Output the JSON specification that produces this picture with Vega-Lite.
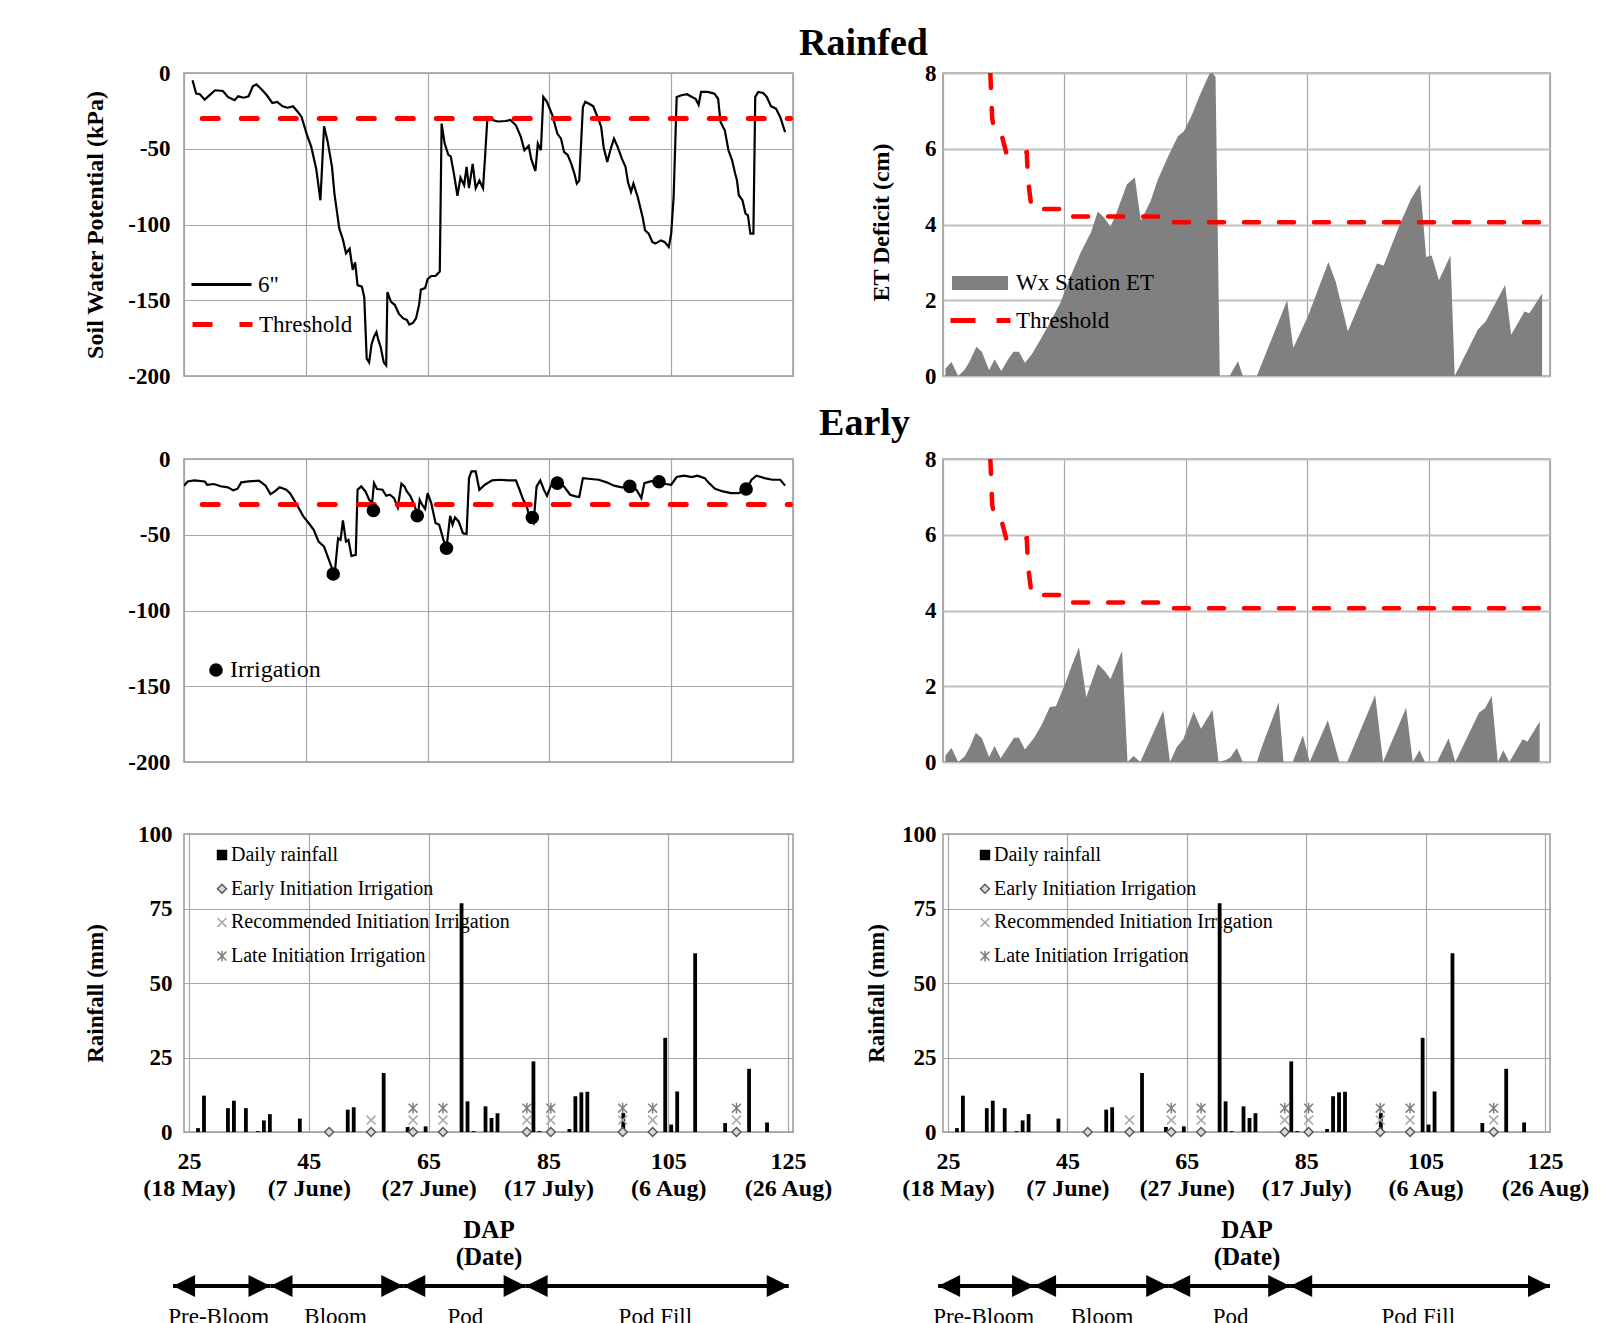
{
"$schema": "https://vega.github.io/schema/vega-lite/v6.json",
"autosize": {"type": "pad"},
"padding": {"left": 82, "top": 0, "right": 0, "bottom": 0},
"background": "white",
"config": {
  "font": "Liberation Serif",
  "view": {"stroke": "#999999", "strokeWidth": 1.5},
  "axis": {"labelFont": "Liberation Serif", "labelFontWeight": "bold", "labelFontSize": 23, "labelColor": "#000000", "titleFont": "Liberation Serif", "titleFontWeight": "bold", "titleFontSize": 24, "titleColor": "#000000", "gridColor": "#a6a6a6", "gridWidth": 1.2, "domain": false, "ticks": false, "tickSize": 0, "labelFlush": false, "labelOverlap": false, "labelBound": false},
  "legend": {"labelFont": "Liberation Serif", "labelColor": "#000000", "padding": 0, "labelLimit": 600},
  "text": {"font": "Liberation Serif"}
},
"resolve": {"scale": {"fill": "independent", "stroke": "independent", "shape": "independent"}, "legend": {"fill": "independent", "stroke": "independent", "shape": "independent"}},
"datasets": {
  "soilR": [{"dap":26.4,"kpa":-4.8},{"dap":27.0,"kpa":-13.6},{"dap":27.6,"kpa":-14},{"dap":28.4,"kpa":-17.6},{"dap":29.3,"kpa":-14.3},{"dap":30.1,"kpa":-11.4},{"dap":31.4,"kpa":-11.9},{"dap":32.2,"kpa":-15.8},{"dap":33.3,"kpa":-18},{"dap":33.9,"kpa":-15.4},{"dap":34.8,"kpa":-16.3},{"dap":35.6,"kpa":-15.4},{"dap":36.3,"kpa":-8.8},{"dap":36.9,"kpa":-7.5},{"dap":37.8,"kpa":-11},{"dap":38.6,"kpa":-14.7},{"dap":39.5,"kpa":-19.8},{"dap":40.3,"kpa":-19.1},{"dap":41.2,"kpa":-22},{"dap":42.0,"kpa":-22.9},{"dap":42.9,"kpa":-22},{"dap":43.7,"kpa":-25.7},{"dap":44.3,"kpa":-29},{"dap":45.2,"kpa":-41},{"dap":45.9,"kpa":-48.8},{"dap":46.7,"kpa":-63},{"dap":47.4,"kpa":-84},{"dap":48.0,"kpa":-35.2},{"dap":48.6,"kpa":-45.5},{"dap":49.3,"kpa":-62},{"dap":49.7,"kpa":-79.6},{"dap":50.5,"kpa":-102.7},{"dap":51.1,"kpa":-110},{"dap":51.6,"kpa":-119},{"dap":52.2,"kpa":-116},{"dap":52.7,"kpa":-130},{"dap":53.1,"kpa":-125},{"dap":53.5,"kpa":-140},{"dap":54.2,"kpa":-141},{"dap":54.6,"kpa":-148},{"dap":55.0,"kpa":-188.6},{"dap":55.4,"kpa":-191},{"dap":55.8,"kpa":-179},{"dap":56.2,"kpa":-174},{"dap":56.6,"kpa":-171},{"dap":56.9,"kpa":-176},{"dap":57.3,"kpa":-181},{"dap":57.8,"kpa":-191},{"dap":58.2,"kpa":-193},{"dap":58.4,"kpa":-144.6},{"dap":59.0,"kpa":-151},{"dap":59.6,"kpa":-153},{"dap":60.3,"kpa":-159},{"dap":61.0,"kpa":-162},{"dap":61.6,"kpa":-163},{"dap":62.0,"kpa":-166},{"dap":62.6,"kpa":-165},{"dap":63.1,"kpa":-162},{"dap":63.6,"kpa":-153},{"dap":63.9,"kpa":-143},{"dap":64.6,"kpa":-142},{"dap":65.0,"kpa":-136},{"dap":65.6,"kpa":-134},{"dap":66.3,"kpa":-134},{"dap":67.0,"kpa":-131},{"dap":67.3,"kpa":-33.4},{"dap":67.8,"kpa":-46.6},{"dap":68.4,"kpa":-54},{"dap":68.8,"kpa":-55},{"dap":69.3,"kpa":-66},{"dap":69.9,"kpa":-81},{"dap":70.4,"kpa":-69},{"dap":71.0,"kpa":-74},{"dap":71.4,"kpa":-62},{"dap":71.8,"kpa":-76},{"dap":72.4,"kpa":-60},{"dap":72.9,"kpa":-76},{"dap":73.5,"kpa":-71},{"dap":74.1,"kpa":-76},{"dap":74.4,"kpa":-57.6},{"dap":74.8,"kpa":-31},{"dap":75.6,"kpa":-31},{"dap":76.5,"kpa":-32},{"dap":77.8,"kpa":-31.7},{"dap":78.6,"kpa":-31},{"dap":79.5,"kpa":-34.5},{"dap":80.3,"kpa":-42},{"dap":80.9,"kpa":-51},{"dap":81.6,"kpa":-48},{"dap":82.0,"kpa":-56.5},{"dap":82.7,"kpa":-64.7},{"dap":83.1,"kpa":-46.6},{"dap":83.6,"kpa":-51},{"dap":84.0,"kpa":-15.8},{"dap":84.6,"kpa":-19},{"dap":85.5,"kpa":-28},{"dap":86.3,"kpa":-40},{"dap":86.9,"kpa":-43.3},{"dap":87.4,"kpa":-52},{"dap":88.0,"kpa":-54},{"dap":88.6,"kpa":-60},{"dap":89.1,"kpa":-66.4},{"dap":89.5,"kpa":-73},{"dap":89.9,"kpa":-71},{"dap":90.5,"kpa":-22.4},{"dap":90.9,"kpa":-19},{"dap":91.8,"kpa":-21},{"dap":92.2,"kpa":-22},{"dap":93.1,"kpa":-31},{"dap":93.5,"kpa":-35.6},{"dap":93.9,"kpa":-48.8},{"dap":94.5,"kpa":-58.7},{"dap":95.0,"kpa":-51},{"dap":95.6,"kpa":-43.3},{"dap":96.2,"kpa":-48.8},{"dap":96.9,"kpa":-56.5},{"dap":97.5,"kpa":-62},{"dap":97.9,"kpa":-72},{"dap":98.4,"kpa":-78.5},{"dap":98.8,"kpa":-73},{"dap":99.5,"kpa":-81.8},{"dap":100.3,"kpa":-95},{"dap":100.7,"kpa":-103.8},{"dap":101.3,"kpa":-106},{"dap":101.9,"kpa":-111.5},{"dap":102.4,"kpa":-112.6},{"dap":103.3,"kpa":-110.5},{"dap":103.9,"kpa":-111.5},{"dap":104.6,"kpa":-114.9},{"dap":105.0,"kpa":-106},{"dap":105.4,"kpa":-81.8},{"dap":105.9,"kpa":-15.8},{"dap":106.7,"kpa":-14.7},{"dap":107.6,"kpa":-14},{"dap":108.4,"kpa":-15.8},{"dap":109.0,"kpa":-17},{"dap":109.5,"kpa":-21},{"dap":109.9,"kpa":-12.5},{"dap":111.0,"kpa":-12.5},{"dap":112.1,"kpa":-13.6},{"dap":112.7,"kpa":-17},{"dap":113.1,"kpa":-32.3},{"dap":113.8,"kpa":-37.8},{"dap":114.4,"kpa":-51},{"dap":115.0,"kpa":-57.6},{"dap":115.5,"kpa":-66.4},{"dap":115.8,"kpa":-70.8},{"dap":116.1,"kpa":-80.7},{"dap":116.7,"kpa":-84},{"dap":117.2,"kpa":-92.8},{"dap":117.6,"kpa":-94},{"dap":118.0,"kpa":-106},{"dap":118.5,"kpa":-106},{"dap":118.8,"kpa":-15.8},{"dap":119.3,"kpa":-12.5},{"dap":120.1,"kpa":-13.2},{"dap":120.7,"kpa":-15.8},{"dap":121.4,"kpa":-22},{"dap":122.2,"kpa":-23.5},{"dap":122.9,"kpa":-29},{"dap":123.7,"kpa":-39}],
  "soilE": [{"dap":25.0,"kpa":-17.6},{"dap":25.6,"kpa":-14.8},{"dap":26.7,"kpa":-14.1},{"dap":28.4,"kpa":-14.8},{"dap":28.8,"kpa":-17},{"dap":29.9,"kpa":-16.5},{"dap":31.0,"kpa":-18},{"dap":32.2,"kpa":-18.7},{"dap":33.1,"kpa":-20.7},{"dap":33.8,"kpa":-19.6},{"dap":34.4,"kpa":-15.4},{"dap":35.6,"kpa":-14.8},{"dap":37.3,"kpa":-14.3},{"dap":38.4,"kpa":-17.6},{"dap":39.2,"kpa":-23.2},{"dap":39.9,"kpa":-21.4},{"dap":40.7,"kpa":-18.7},{"dap":41.8,"kpa":-20.3},{"dap":42.4,"kpa":-22.5},{"dap":42.9,"kpa":-25.8},{"dap":43.7,"kpa":-31.3},{"dap":44.6,"kpa":-37.9},{"dap":45.4,"kpa":-41.9},{"dap":46.3,"kpa":-46.7},{"dap":47.1,"kpa":-54.5},{"dap":48.0,"kpa":-57.8},{"dap":48.6,"kpa":-64.4},{"dap":49.3,"kpa":-72.1},{"dap":49.7,"kpa":-77.6},{"dap":50.3,"kpa":-52.3},{"dap":50.7,"kpa":-53.4},{"dap":51.1,"kpa":-40.6},{"dap":51.6,"kpa":-54.5},{"dap":52.0,"kpa":-53.4},{"dap":52.5,"kpa":-64},{"dap":53.2,"kpa":-63.3},{"dap":53.5,"kpa":-20.3},{"dap":54.1,"kpa":-18.1},{"dap":54.8,"kpa":-21.4},{"dap":55.4,"kpa":-26.9},{"dap":55.9,"kpa":-28.7},{"dap":56.2,"kpa":-15.9},{"dap":56.7,"kpa":-19.8},{"dap":57.6,"kpa":-20.3},{"dap":58.2,"kpa":-24.3},{"dap":58.8,"kpa":-23.6},{"dap":59.5,"kpa":-25.8},{"dap":60.1,"kpa":-32},{"dap":60.7,"kpa":-16.3},{"dap":61.2,"kpa":-18.1},{"dap":61.6,"kpa":-21.4},{"dap":62.2,"kpa":-24.7},{"dap":62.9,"kpa":-31.3},{"dap":63.4,"kpa":-37.5},{"dap":63.7,"kpa":-26.9},{"dap":64.1,"kpa":-30.2},{"dap":64.6,"kpa":-33},{"dap":65.0,"kpa":-22.5},{"dap":65.6,"kpa":-29.1},{"dap":66.3,"kpa":-42.3},{"dap":66.9,"kpa":-43.4},{"dap":67.6,"kpa":-53.4},{"dap":68.1,"kpa":-58.9},{"dap":68.7,"kpa":-37.5},{"dap":69.1,"kpa":-43.4},{"dap":69.5,"kpa":-38.6},{"dap":70.1,"kpa":-41.2},{"dap":70.8,"kpa":-49},{"dap":71.4,"kpa":-49.4},{"dap":71.8,"kpa":-12.6},{"dap":72.2,"kpa":-8.2},{"dap":72.9,"kpa":-8.2},{"dap":73.5,"kpa":-20.3},{"dap":74.4,"kpa":-17},{"dap":75.6,"kpa":-14.1},{"dap":76.9,"kpa":-13.7},{"dap":78.2,"kpa":-14.1},{"dap":79.5,"kpa":-14.1},{"dap":80.1,"kpa":-20.3},{"dap":80.7,"kpa":-26.9},{"dap":81.2,"kpa":-30.2},{"dap":81.8,"kpa":-39},{"dap":82.4,"kpa":-42.3},{"dap":82.9,"kpa":-18.1},{"dap":83.5,"kpa":-14.1},{"dap":84.1,"kpa":-20.3},{"dap":84.6,"kpa":-24.3},{"dap":85.2,"kpa":-18.1},{"dap":85.9,"kpa":-13.7},{"dap":86.7,"kpa":-14.8},{"dap":87.6,"kpa":-19.2},{"dap":88.4,"kpa":-23.6},{"dap":89.3,"kpa":-24.7},{"dap":89.9,"kpa":-25.1},{"dap":90.5,"kpa":-12.6},{"dap":91.8,"kpa":-13.2},{"dap":93.1,"kpa":-13.7},{"dap":94.4,"kpa":-15.4},{"dap":95.6,"kpa":-17.6},{"dap":96.9,"kpa":-18.7},{"dap":98.2,"kpa":-18.1},{"dap":99.3,"kpa":-20.3},{"dap":100.1,"kpa":-25.8},{"dap":100.6,"kpa":-15.9},{"dap":101.6,"kpa":-14.8},{"dap":102.9,"kpa":-14.1},{"dap":104.1,"kpa":-16.5},{"dap":105.0,"kpa":-17},{"dap":105.9,"kpa":-11.9},{"dap":107.1,"kpa":-11},{"dap":108.4,"kpa":-11.9},{"dap":109.3,"kpa":-11},{"dap":110.5,"kpa":-12.6},{"dap":111.2,"kpa":-15.9},{"dap":112.2,"kpa":-19.6},{"dap":113.5,"kpa":-21.4},{"dap":114.8,"kpa":-22.5},{"dap":116.1,"kpa":-22.5},{"dap":117.3,"kpa":-20.3},{"dap":118.2,"kpa":-13.7},{"dap":119.0,"kpa":-11},{"dap":120.3,"kpa":-12.6},{"dap":121.6,"kpa":-13.7},{"dap":122.9,"kpa":-13.7},{"dap":123.7,"kpa":-17.6}],
  "thrSoil": [{"dap":28.0,"kpa":-30},{"dap":124.6,"kpa":-30}],
  "irr": [{"dap":49.5,"kpa":-75.9},{"dap":56.1,"kpa":-34},{"dap":63.3,"kpa":-37.5},{"dap":68.1,"kpa":-58.9},{"dap":82.2,"kpa":-38.6},{"dap":86.3,"kpa":-15.9},{"dap":98.2,"kpa":-18.1},{"dap":103.0,"kpa":-15},{"dap":117.3,"kpa":-19.8}],
  "etR": [{"dap":25.4,"et":0.2},{"dap":26.4,"et":0.37},{"dap":27.5,"et":0},{"dap":28.6,"et":0.17},{"dap":29.4,"et":0.39},{"dap":30.5,"et":0.77},{"dap":31.4,"et":0.64},{"dap":32.6,"et":0.15},{"dap":33.5,"et":0.44},{"dap":34.6,"et":0.13},{"dap":35.6,"et":0.41},{"dap":36.6,"et":0.64},{"dap":37.5,"et":0.64},{"dap":38.5,"et":0.35},{"dap":39.6,"et":0.57},{"dap":40.9,"et":0.92},{"dap":42.6,"et":1.4},{"dap":44.3,"et":1.92},{"dap":46.0,"et":2.62},{"dap":47.7,"et":3.27},{"dap":49.4,"et":3.8},{"dap":50.5,"et":4.34},{"dap":51.5,"et":4.19},{"dap":52.6,"et":3.94},{"dap":53.6,"et":4.32},{"dap":55.3,"et":5.06},{"dap":56.6,"et":5.24},{"dap":57.6,"et":4.1},{"dap":59.2,"et":4.62},{"dap":60.4,"et":5.19},{"dap":62.1,"et":5.8},{"dap":63.7,"et":6.33},{"dap":64.7,"et":6.46},{"dap":66.0,"et":6.89},{"dap":67.2,"et":7.37},{"dap":68.9,"et":7.98},{"dap":69.4,"et":8.0},{"dap":69.9,"et":7.9},{"dap":70.6,"et":0},{"dap":72.2,"et":0},{"dap":73.6,"et":0.39},{"dap":74.4,"et":0},{"dap":76.7,"et":0},{"dap":81.7,"et":2.0},{"dap":82.7,"et":0.74},{"dap":85.1,"et":1.57},{"dap":88.5,"et":3.01},{"dap":89.7,"et":2.49},{"dap":91.7,"et":1.18},{"dap":94.0,"et":2.05},{"dap":96.5,"et":2.97},{"dap":97.6,"et":2.92},{"dap":100.4,"et":4.06},{"dap":102.1,"et":4.67},{"dap":103.6,"et":5.06},{"dap":104.6,"et":3.14},{"dap":105.5,"et":3.18},{"dap":106.7,"et":2.53},{"dap":108.6,"et":3.18},{"dap":109.3,"et":0},{"dap":113.1,"et":1.22},{"dap":114.4,"et":1.44},{"dap":117.6,"et":2.4},{"dap":118.6,"et":1.09},{"dap":120.8,"et":1.7},{"dap":121.6,"et":1.66},{"dap":123.7,"et":2.18}],
  "etE": [{"dap":25.4,"et":0.17},{"dap":26.4,"et":0.37},{"dap":27.5,"et":0},{"dap":28.6,"et":0.15},{"dap":29.4,"et":0.39},{"dap":30.4,"et":0.77},{"dap":31.4,"et":0.63},{"dap":32.6,"et":0.13},{"dap":33.5,"et":0.42},{"dap":34.5,"et":0.1},{"dap":36.7,"et":0.64},{"dap":37.5,"et":0.64},{"dap":38.5,"et":0.33},{"dap":40.1,"et":0.66},{"dap":41.3,"et":1.0},{"dap":42.6,"et":1.45},{"dap":43.6,"et":1.47},{"dap":45.2,"et":2.1},{"dap":46.2,"et":2.54},{"dap":47.4,"et":3.03},{"dap":48.6,"et":1.71},{"dap":50.5,"et":2.59},{"dap":51.6,"et":2.41},{"dap":52.6,"et":2.19},{"dap":54.5,"et":2.94},{"dap":55.4,"et":0},{"dap":56.4,"et":0.16},{"dap":57.5,"et":0},{"dap":61.3,"et":1.36},{"dap":62.4,"et":0},{"dap":63.5,"et":0.39},{"dap":64.6,"et":0.61},{"dap":66.3,"et":1.33},{"dap":67.5,"et":0.88},{"dap":69.4,"et":1.38},{"dap":70.4,"et":0},{"dap":71.6,"et":0.05},{"dap":72.4,"et":0.13},{"dap":73.4,"et":0.37},{"dap":74.4,"et":0},{"dap":76.7,"et":0},{"dap":77.5,"et":0.39},{"dap":80.3,"et":1.58},{"dap":81.1,"et":0},{"dap":82.6,"et":0},{"dap":84.3,"et":0.7},{"dap":85.4,"et":0},{"dap":88.4,"et":1.1},{"dap":90.3,"et":0},{"dap":91.6,"et":0},{"dap":96.2,"et":1.77},{"dap":97.5,"et":0},{"dap":101.3,"et":1.43},{"dap":102.4,"et":0},{"dap":103.5,"et":0.31},{"dap":104.4,"et":0},{"dap":106.4,"et":0},{"dap":108.3,"et":0.63},{"dap":109.4,"et":0},{"dap":113.3,"et":1.3},{"dap":114.3,"et":1.42},{"dap":115.4,"et":1.74},{"dap":116.4,"et":0},{"dap":117.3,"et":0.31},{"dap":118.3,"et":0},{"dap":120.5,"et":0.6},{"dap":121.3,"et":0.54},{"dap":123.3,"et":1.07}],
  "thrET": [{"dap":32.8,"et":8.0},{"dap":33.1,"et":6.8},{"dap":33.5,"et":6.46},{"dap":34.6,"et":6.4},{"dap":35.4,"et":5.91},{"dap":38.8,"et":5.91},{"dap":39.0,"et":5.19},{"dap":39.6,"et":4.41},{"dap":45.3,"et":4.41},{"dap":45.6,"et":4.21},{"dap":61.4,"et":4.21},{"dap":61.7,"et":4.06},{"dap":125,"et":4.06}],
  "rain": [{"dap":26.5,"mm":1.3},{"dap":27.5,"mm":12.2},{"dap":31.5,"mm":8.0},{"dap":32.5,"mm":10.5},{"dap":34.5,"mm":8.0},{"dap":36.5,"mm":0.3},{"dap":37.5,"mm":3.9},{"dap":38.5,"mm":6.0},{"dap":43.5,"mm":4.5},{"dap":51.5,"mm":7.5},{"dap":52.5,"mm":8.3},{"dap":57.5,"mm":19.8},{"dap":61.5,"mm":1.7},{"dap":64.5,"mm":1.9},{"dap":70.5,"mm":76.8},{"dap":71.5,"mm":10.3},{"dap":72.5,"mm":0.3},{"dap":74.5,"mm":8.6},{"dap":75.5,"mm":4.7},{"dap":76.5,"mm":6.3},{"dap":82.5,"mm":23.7},{"dap":83.5,"mm":0.3},{"dap":88.5,"mm":1.0},{"dap":89.5,"mm":12.0},{"dap":90.5,"mm":13.3},{"dap":91.5,"mm":13.5},{"dap":97.5,"mm":6.4},{"dap":104.5,"mm":31.6},{"dap":105.5,"mm":2.5},{"dap":106.5,"mm":13.6},{"dap":109.5,"mm":60.0},{"dap":114.5,"mm":3.0},{"dap":118.5,"mm":21.2},{"dap":121.5,"mm":3.2}],
  "marks": [{"dap":48.4,"mm":0,"series":"Early Initiation Irrigation"},{"dap":55.4,"mm":0,"series":"Early Initiation Irrigation"},{"dap":62.4,"mm":0,"series":"Early Initiation Irrigation"},{"dap":67.4,"mm":0,"series":"Early Initiation Irrigation"},{"dap":81.4,"mm":0,"series":"Early Initiation Irrigation"},{"dap":85.4,"mm":0,"series":"Early Initiation Irrigation"},{"dap":97.4,"mm":0,"series":"Early Initiation Irrigation"},{"dap":102.4,"mm":0,"series":"Early Initiation Irrigation"},{"dap":116.4,"mm":0,"series":"Early Initiation Irrigation"},
    {"dap":55.4,"mm":4,"series":"Recommended Initiation Irrigation"},{"dap":62.4,"mm":4,"series":"Recommended Initiation Irrigation"},{"dap":67.4,"mm":4,"series":"Recommended Initiation Irrigation"},{"dap":81.4,"mm":4,"series":"Recommended Initiation Irrigation"},{"dap":85.4,"mm":4,"series":"Recommended Initiation Irrigation"},{"dap":97.4,"mm":4,"series":"Recommended Initiation Irrigation"},{"dap":102.4,"mm":4,"series":"Recommended Initiation Irrigation"},{"dap":116.4,"mm":4,"series":"Recommended Initiation Irrigation"},
    {"dap":62.4,"mm":8,"series":"Late Initiation Irrigation"},{"dap":67.4,"mm":8,"series":"Late Initiation Irrigation"},{"dap":81.4,"mm":8,"series":"Late Initiation Irrigation"},{"dap":85.4,"mm":8,"series":"Late Initiation Irrigation"},{"dap":97.4,"mm":8,"series":"Late Initiation Irrigation"},{"dap":102.4,"mm":8,"series":"Late Initiation Irrigation"},{"dap":116.4,"mm":8,"series":"Late Initiation Irrigation"}],
  "stagesL": [{"stage":"Pre-Bloom","start":23.2,"end":39.2,"mid":30.7},{"stage":"Bloom","start":39.2,"end":61.0,"mid":49.9},{"stage":"Pod","start":61.0,"end":81.1,"mid":71.2},{"stage":"Pod Fill","start":81.1,"end":124.3,"mid":102.4}],
  "stagesR": [{"stage":"Pre-Bloom","start":24.2,"end":40.0,"mid":31.7},{"stage":"Bloom","start":40.0,"end":62.1,"mid":51.2},{"stage":"Pod","start":62.1,"end":82.2,"mid":72.4},{"stage":"Pod Fill","start":82.2,"end":125.0,"mid":103.3}]
},
"columns": 2,
"spacing": {"row": 0, "column": 150},
"bounds": "flush",
"align": "each",
"concat": [
  {"width": 609, "height": 73, "view": {"stroke": null}, "data": {"values": [{"t": "Rainfed"}]},
   "mark": {"type": "text", "fontSize": 38, "fontWeight": "bold", "baseline": "alphabetic", "align": "center", "dx": 375, "dy": 18.5, "color": "#000000"},
   "encoding": {"text": {"field": "t"}}},
  {"width": 607, "height": 73, "view": {"stroke": null}, "data": {"values": [{"t": ""}]}, "mark": {"type": "text"}, "encoding": {"text": {"field": "t"}}},

  {"width": 609, "height": 303,
   "layer": [
     {"data": {"name": "soilR"}, "mark": {"type": "line", "strokeWidth": 2.2, "clip": true},
      "encoding": {
        "x": {"field": "dap", "type": "quantitative", "scale": {"domain": [25, 125], "nice": false, "zero": false}, "axis": {"values": [25, 45, 65, 85, 105, 125], "labels": false, "title": null, "grid": true}},
        "y": {"field": "kpa", "type": "quantitative", "scale": {"domain": [-200, 0], "nice": false}, "axis": {"values": [-200, -150, -100, -50, 0], "labelExpr": "datum.value < 0 ? '-' + abs(datum.value) : '' + datum.value", "title": "Soil Water Potential (kPa)", "labelPadding": 14, "titleX": -89, "titleY": 151.5, "titleAngle": -90, "titleBaseline": "middle", "titleAlign": "center"}},
        "stroke": {"datum": "6\"", "type": "nominal", "scale": {"range": ["#000000"]}, "legend": {"title": null, "orient": "none", "legendX": 6, "legendY": 180, "symbolType": "stroke", "symbolSize": 3600, "symbolStrokeWidth": 3, "labelFontSize": 23, "labelOffset": 5}}
      }},
     {"data": {"name": "thrSoil"}, "mark": {"type": "line", "strokeWidth": 5, "strokeDash": [16, 23], "strokeCap": "round"},
      "encoding": {
        "x": {"field": "dap", "type": "quantitative"},
        "y": {"field": "kpa", "type": "quantitative"},
        "stroke": {"datum": "Threshold", "type": "nominal", "scale": {"range": ["#ff0000"]}, "legend": {"title": null, "orient": "none", "legendX": 6, "legendY": 219, "symbolType": "stroke", "symbolSize": 3600, "symbolStrokeWidth": 5, "symbolDash": [20, 27], "labelFontSize": 23, "labelOffset": 4}}
      }}
   ],
   "resolve": {"scale": {"stroke": "independent"}, "legend": {"stroke": "independent"}}},

  {"width": 607, "height": 303,
   "layer": [
     {"data": {"name": "etR"}, "mark": {"type": "area", "clip": true, "opacity": 1},
      "encoding": {
        "x": {"field": "dap", "type": "quantitative", "scale": {"domain": [25, 125], "nice": false, "zero": false}, "axis": {"values": [25, 45, 65, 85, 105, 125], "labels": false, "title": null, "grid": true}},
        "y": {"field": "et", "type": "quantitative", "scale": {"domain": [0, 8], "nice": false}, "axis": {"values": [0, 2, 4, 6, 8], "title": "ET Deficit (cm)", "labelPadding": 7, "titleX": -62, "titleY": 149, "titleAngle": -90, "titleBaseline": "middle", "titleAlign": "center", "gridColor": "#bfbfbf", "gridWidth": 2}},
        "fill": {"datum": "Wx Station ET", "type": "nominal", "scale": {"range": ["#808080"]}, "legend": {"title": null, "orient": "none", "legendX": 9, "legendY": 182, "symbolType": "M-1,-0.25H1V0.25H-1Z", "symbolSize": 3136, "symbolStrokeWidth": 0, "labelFontSize": 23, "labelOffset": 8}}
      }},
     {"data": {"name": "thrET"}, "mark": {"type": "line", "strokeWidth": 4.5, "strokeDash": [15, 20], "strokeCap": "round", "clip": true},
      "encoding": {
        "x": {"field": "dap", "type": "quantitative"},
        "y": {"field": "et", "type": "quantitative"},
        "stroke": {"datum": "Threshold", "type": "nominal", "scale": {"range": ["#ff0000"]}, "legend": {"title": null, "orient": "none", "legendX": 5, "legendY": 215, "symbolType": "stroke", "symbolSize": 3600, "symbolStrokeWidth": 5, "symbolDash": [25, 21], "labelFontSize": 23, "labelOffset": 3}}
      }}
   ]},

  {"width": 609, "height": 83, "view": {"stroke": null}, "data": {"values": [{"t": "Early"}]},
   "mark": {"type": "text", "fontSize": 38, "fontWeight": "bold", "baseline": "alphabetic", "align": "center", "dx": 376, "dy": 17.5, "color": "#000000"},
   "encoding": {"text": {"field": "t"}}},
  {"width": 607, "height": 83, "view": {"stroke": null}, "data": {"values": [{"t": ""}]}, "mark": {"type": "text"}, "encoding": {"text": {"field": "t"}}},

  {"width": 609, "height": 303,
   "layer": [
     {"data": {"name": "soilE"}, "mark": {"type": "line", "strokeWidth": 2.2, "color": "#000000", "clip": true},
      "encoding": {
        "x": {"field": "dap", "type": "quantitative", "scale": {"domain": [25, 125], "nice": false, "zero": false}, "axis": {"values": [25, 45, 65, 85, 105, 125], "labels": false, "title": null, "grid": true}},
        "y": {"field": "kpa", "type": "quantitative", "scale": {"domain": [-200, 0], "nice": false}, "axis": {"values": [-200, -150, -100, -50, 0], "labelExpr": "datum.value < 0 ? '-' + abs(datum.value) : '' + datum.value", "title": null, "labelPadding": 14}}
      }},
     {"data": {"name": "thrSoil"}, "mark": {"type": "line", "strokeWidth": 5, "strokeDash": [16, 23], "strokeCap": "round", "color": "#ff0000"},
      "encoding": {"x": {"field": "dap", "type": "quantitative"}, "y": {"field": "kpa", "type": "quantitative"}}},
     {"data": {"name": "irr"}, "mark": {"type": "point", "filled": true, "size": 185, "opacity": 1},
      "encoding": {
        "x": {"field": "dap", "type": "quantitative"},
        "y": {"field": "kpa", "type": "quantitative"},
        "fill": {"datum": "Irrigation", "type": "nominal", "scale": {"range": ["#000000"]}, "legend": {"title": null, "orient": "none", "legendX": 20, "legendY": 199, "symbolType": "circle", "symbolSize": 185, "symbolStrokeWidth": 0, "labelFontSize": 24, "labelOffset": 2}}
      }}
   ]},

  {"width": 607, "height": 303,
   "layer": [
     {"data": {"name": "etE"}, "mark": {"type": "area", "clip": true, "opacity": 1, "color": "#808080"},
      "encoding": {
        "x": {"field": "dap", "type": "quantitative", "scale": {"domain": [25, 125], "nice": false, "zero": false}, "axis": {"values": [25, 45, 65, 85, 105, 125], "labels": false, "title": null, "grid": true}},
        "y": {"field": "et", "type": "quantitative", "scale": {"domain": [0, 8], "nice": false}, "axis": {"values": [0, 2, 4, 6, 8], "title": null, "labelPadding": 7, "gridColor": "#bfbfbf", "gridWidth": 2}}
      }},
     {"data": {"name": "thrET"}, "mark": {"type": "line", "strokeWidth": 4.5, "strokeDash": [15, 20], "strokeCap": "round", "color": "#ff0000", "clip": true},
      "encoding": {"x": {"field": "dap", "type": "quantitative"}, "y": {"field": "et", "type": "quantitative"}}}
   ]},

  {"width": 609, "height": 72, "view": {"stroke": null}, "data": {"values": [{"t": ""}]}, "mark": {"type": "text"}, "encoding": {"text": {"field": "t"}}},
  {"width": 607, "height": 72, "view": {"stroke": null}, "data": {"values": [{"t": ""}]}, "mark": {"type": "text"}, "encoding": {"text": {"field": "t"}}},

  {"width": 609, "height": 298,
   "layer": [
     {"data": {"name": "rain"}, "mark": {"type": "bar", "size": 3.8},
      "encoding": {
        "x": {"field": "dap", "type": "quantitative", "scale": {"domain": [25, 125], "nice": false, "zero": false}, "axis": {"values": [25, 45, 65, 85, 105, 125], "grid": true, "labelFontSize": 24, "labelExpr": "[datum.label, datum.value == 25 ? '(18 May)' : datum.value == 45 ? '(7 June)' : datum.value == 65 ? '(27 June)' : datum.value == 85 ? '(17 July)' : datum.value == 105 ? '(6 Aug)' : '(26 Aug)']", "labelPadding": 17, "labelBaseline": "top", "labelLineHeight": 27, "title": ["DAP", "(Date)"], "titleFontSize": 25, "titleY": 85, "titleBaseline": "top", "titleLineHeight": 27.5}},
        "y": {"field": "mm", "type": "quantitative", "scale": {"domain": [0, 100], "nice": false}, "axis": {"values": [0, 25, 50, 75, 100], "title": "Rainfall (mm)", "titleFontSize": 23, "labelPadding": 12, "titleX": -89, "titleY": 159, "titleAngle": -90, "titleBaseline": "middle", "titleAlign": "center"}},
        "fill": {"datum": "Daily rainfall", "type": "nominal", "scale": {"domain": ["Daily rainfall", "Early Initiation Irrigation", "Recommended Initiation Irrigation", "Late Initiation Irrigation"], "range": ["#000000", "#d9d9d9", "transparent", "transparent"]}, "legend": {"title": null, "orient": "none", "legendX": 28, "legendY": 11, "labelFontSize": 20, "labelOffset": -1, "rowPadding": 13.7, "symbolSize": 80, "symbolStrokeWidth": 1.5}}
      }},
     {"data": {"name": "marks"}, "mark": {"type": "point", "size": 80, "strokeWidth": 1.5, "opacity": 1},
      "encoding": {
        "x": {"field": "dap", "type": "quantitative"},
        "y": {"field": "mm", "type": "quantitative"},
        "shape": {"field": "series", "type": "nominal", "scale": {"domain": ["Daily rainfall", "Early Initiation Irrigation", "Recommended Initiation Irrigation", "Late Initiation Irrigation"], "range": ["square", "diamond", "M-1,-1L1,1M-1,1L1,-1", "M-1,-1L1,1M-1,1L1,-1M0,-1.2L0,1.2"]}, "legend": {"title": null, "orient": "none", "legendX": 28, "legendY": 11, "labelFontSize": 20, "labelOffset": -1, "rowPadding": 13.7, "symbolSize": 80, "symbolStrokeWidth": 1.5}},
        "fill": {"field": "series", "type": "nominal", "legend": {"title": null, "orient": "none", "legendX": 28, "legendY": 11, "labelFontSize": 20, "labelOffset": -1, "rowPadding": 13.7, "symbolSize": 80, "symbolStrokeWidth": 1.5}},
        "stroke": {"field": "series", "type": "nominal", "scale": {"domain": ["Daily rainfall", "Early Initiation Irrigation", "Recommended Initiation Irrigation", "Late Initiation Irrigation"], "range": ["#000000", "#595959", "#a6a6a6", "#7f7f7f"]}, "legend": {"title": null, "orient": "none", "legendX": 28, "legendY": 11, "labelFontSize": 20, "labelOffset": -1, "rowPadding": 13.7, "symbolSize": 80, "symbolStrokeWidth": 1.5}}
      }}
   ]},

  {"width": 607, "height": 298,
   "layer": [
     {"data": {"name": "rain"}, "mark": {"type": "bar", "size": 3.8},
      "encoding": {
        "x": {"field": "dap", "type": "quantitative", "scale": {"domain": [25, 125], "nice": false, "zero": false}, "axis": {"values": [25, 45, 65, 85, 105, 125], "grid": true, "labelFontSize": 24, "labelExpr": "[datum.label, datum.value == 25 ? '(18 May)' : datum.value == 45 ? '(7 June)' : datum.value == 65 ? '(27 June)' : datum.value == 85 ? '(17 July)' : datum.value == 105 ? '(6 Aug)' : '(26 Aug)']", "labelPadding": 17, "labelBaseline": "top", "labelLineHeight": 27, "title": ["DAP", "(Date)"], "titleFontSize": 25, "titleY": 85, "titleBaseline": "top", "titleLineHeight": 27.5}},
        "y": {"field": "mm", "type": "quantitative", "scale": {"domain": [0, 100], "nice": false}, "axis": {"values": [0, 25, 50, 75, 100], "title": "Rainfall (mm)", "titleFontSize": 23, "labelPadding": 7, "titleX": -67, "titleY": 159, "titleAngle": -90, "titleBaseline": "middle", "titleAlign": "center"}},
        "fill": {"datum": "Daily rainfall", "type": "nominal", "scale": {"domain": ["Daily rainfall", "Early Initiation Irrigation", "Recommended Initiation Irrigation", "Late Initiation Irrigation"], "range": ["#000000", "#d9d9d9", "transparent", "transparent"]}, "legend": {"title": null, "orient": "none", "legendX": 32, "legendY": 11, "labelFontSize": 20, "labelOffset": -1, "rowPadding": 13.7, "symbolSize": 80, "symbolStrokeWidth": 1.5}}
      }},
     {"data": {"name": "marks"}, "mark": {"type": "point", "size": 80, "strokeWidth": 1.5, "opacity": 1},
      "encoding": {
        "x": {"field": "dap", "type": "quantitative"},
        "y": {"field": "mm", "type": "quantitative"},
        "shape": {"field": "series", "type": "nominal", "scale": {"domain": ["Daily rainfall", "Early Initiation Irrigation", "Recommended Initiation Irrigation", "Late Initiation Irrigation"], "range": ["square", "diamond", "M-1,-1L1,1M-1,1L1,-1", "M-1,-1L1,1M-1,1L1,-1M0,-1.2L0,1.2"]}, "legend": {"title": null, "orient": "none", "legendX": 32, "legendY": 11, "labelFontSize": 20, "labelOffset": -1, "rowPadding": 13.7, "symbolSize": 80, "symbolStrokeWidth": 1.5}},
        "fill": {"field": "series", "type": "nominal", "legend": {"title": null, "orient": "none", "legendX": 32, "legendY": 11, "labelFontSize": 20, "labelOffset": -1, "rowPadding": 13.7, "symbolSize": 80, "symbolStrokeWidth": 1.5}},
        "stroke": {"field": "series", "type": "nominal", "scale": {"domain": ["Daily rainfall", "Early Initiation Irrigation", "Recommended Initiation Irrigation", "Late Initiation Irrigation"], "range": ["#000000", "#595959", "#a6a6a6", "#7f7f7f"]}, "legend": {"title": null, "orient": "none", "legendX": 32, "legendY": 11, "labelFontSize": 20, "labelOffset": -1, "rowPadding": 13.7, "symbolSize": 80, "symbolStrokeWidth": 1.5}}
      }}
   ]},

  {"width": 609, "height": 129, "view": {"stroke": null}, "data": {"values": [{"t": ""}]}, "mark": {"type": "text"}, "encoding": {"text": {"field": "t"}}},
  {"width": 607, "height": 129, "view": {"stroke": null}, "data": {"values": [{"t": ""}]}, "mark": {"type": "text"}, "encoding": {"text": {"field": "t"}}},

  {"width": 609, "height": 50, "view": {"stroke": null}, "data": {"name": "stagesL"},
   "layer": [
     {"mark": {"type": "rule", "strokeWidth": 4, "color": "#000000"},
      "encoding": {"x": {"field": "start", "type": "quantitative", "scale": {"domain": [25, 125], "nice": false, "zero": false}, "axis": null}, "x2": {"field": "end"}}},
     {"mark": {"type": "point", "shape": "M1,-1L-1,0L1,1Z", "size": 484, "filled": true, "color": "#000000", "opacity": 1, "xOffset": 11},
      "encoding": {"x": {"field": "start", "type": "quantitative"}}},
     {"mark": {"type": "point", "shape": "M-1,-1L1,0L-1,1Z", "size": 484, "filled": true, "color": "#000000", "opacity": 1, "xOffset": -11},
      "encoding": {"x": {"field": "end", "type": "quantitative"}}},
     {"mark": {"type": "text", "fontSize": 23, "baseline": "top", "dy": 20, "color": "#000000"},
      "encoding": {"x": {"field": "mid", "type": "quantitative"}, "text": {"field": "stage"}}}
   ]},
  {"width": 607, "height": 50, "view": {"stroke": null}, "data": {"name": "stagesR"},
   "layer": [
     {"mark": {"type": "rule", "strokeWidth": 4, "color": "#000000"},
      "encoding": {"x": {"field": "start", "type": "quantitative", "scale": {"domain": [25, 125], "nice": false, "zero": false}, "axis": null}, "x2": {"field": "end"}}},
     {"mark": {"type": "point", "shape": "M1,-1L-1,0L1,1Z", "size": 484, "filled": true, "color": "#000000", "opacity": 1, "xOffset": 11},
      "encoding": {"x": {"field": "start", "type": "quantitative"}}},
     {"mark": {"type": "point", "shape": "M-1,-1L1,0L-1,1Z", "size": 484, "filled": true, "color": "#000000", "opacity": 1, "xOffset": -11},
      "encoding": {"x": {"field": "end", "type": "quantitative"}}},
     {"mark": {"type": "text", "fontSize": 23, "baseline": "top", "dy": 20, "color": "#000000"},
      "encoding": {"x": {"field": "mid", "type": "quantitative"}, "text": {"field": "stage"}}}
   ]}
]
}
